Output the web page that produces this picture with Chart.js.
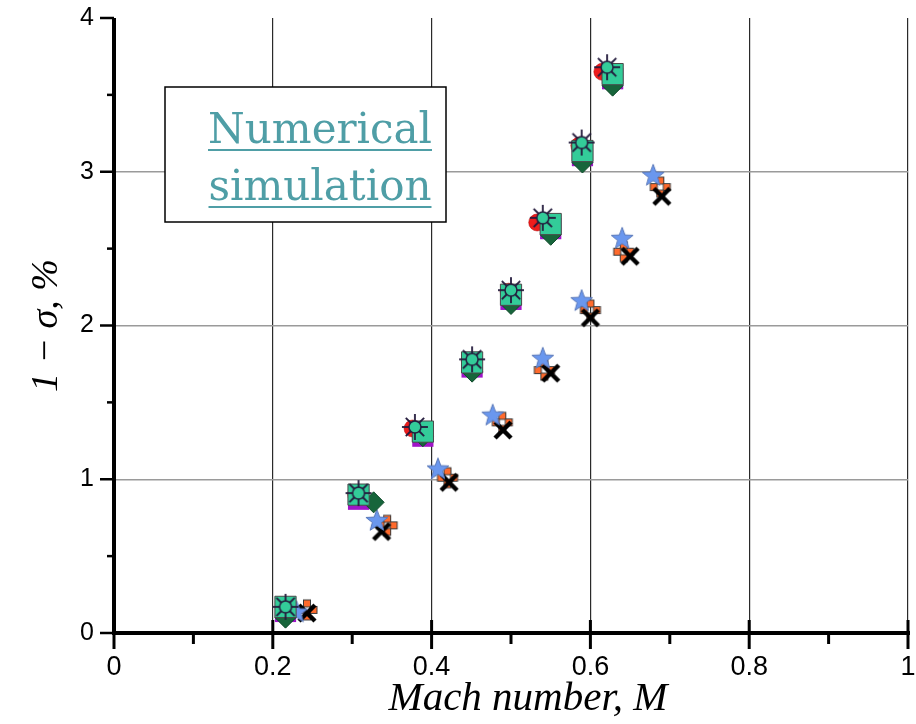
<!DOCTYPE html>
<html>
<head>
<meta charset="utf-8">
<script src="https://cdn.jsdelivr.net/npm/chart.js@4"></script>
<style>
  html, body { margin: 0; padding: 0; background: #fff; }
  #wrap { width: 916px; height: 724px; }
</style>
</head>
<body>
<div id="wrap"><canvas id="chart" width="916" height="724"></canvas></div>
<script>
// --- data ---
// numerical simulation (left cluster)
const sunX = [0.216, 0.308, 0.379, 0.451, 0.500, 0.540, 0.589, 0.621];
const sunY = [0.17, 0.91, 1.34, 1.78, 2.23, 2.70, 3.19, 3.68];
const redX = [0.214, 0.305, 0.376, 0.448, 0.497, 0.533, 0.586, 0.615];
const redY = [0.16, 0.90, 1.33, 1.77, 2.22, 2.67, 3.17, 3.65];
const squareX = [0.216, 0.308, 0.389, 0.451, 0.500, 0.550, 0.590, 0.628];
const squareY = [0.17, 0.90, 1.31, 1.76, 2.20, 2.66, 3.135, 3.635];
const purpleY = [0.14, 0.87, 1.28, 1.73, 2.17, 2.63, 3.105, 3.605];
const diamondX = [0.216, 0.327, 0.389, 0.451, 0.500, 0.550, 0.590, 0.628];
const diamondY = [0.10, 0.85, 1.28, 1.70, 2.14, 2.59, 3.06, 3.56];
// experiment (right cluster)
const starX = [0.230, 0.331, 0.408, 0.477, 0.540, 0.589, 0.640, 0.679];
const starY = [0.14, 0.735, 1.07, 1.42, 1.79, 2.165, 2.57, 2.98];
const plusX = [0.243, 0.344, 0.420, 0.489, 0.542, 0.600, 0.642, 0.688];
const plusY = [0.15, 0.70, 1.01, 1.37, 1.71, 2.10, 2.48, 2.90];
const crossX = [0.243, 0.337, 0.422, 0.490, 0.550, 0.600, 0.650, 0.690];
const crossY = [0.13, 0.66, 0.98, 1.32, 1.69, 2.05, 2.45, 2.84];

const xTicks = [0, 0.2, 0.4, 0.6, 0.8, 1];
const yTicks = [0, 1, 2, 3, 4];

function pts(xs, ys) {
    return xs.map((x, i) => ({ x: x, y: ys[i] }));
}

function makeMarker(size, draw) {
    const c = document.createElement('canvas');
    c.width = size;
    c.height = size;
    draw(c.getContext('2d'), size / 2);
    return c;
}

// circle with rays
const sunMarker = makeMarker(30, function(g, c) {
    g.strokeStyle = '#231a3c';
    g.lineWidth = 1.8;
    for (let k = 0; k < 8; k++) {
        const a = k * Math.PI / 4;
        g.beginPath();
        g.moveTo(c + Math.cos(a) * 6, c + Math.sin(a) * 6);
        g.lineTo(c + Math.cos(a) * 13, c + Math.sin(a) * 13);
        g.stroke();
    }
    g.beginPath();
    g.arc(c, c, 6, 0, Math.PI * 2);
    g.fillStyle = '#33cc99';
    g.fill();
    g.lineWidth = 1.5;
    g.stroke();
});

// five point star
const starMarker = makeMarker(26, function(g, c) {
    g.beginPath();
    for (let k = 0; k < 10; k++) {
        const r = k % 2 === 0 ? 11.5 : 4.8;
        const a = -Math.PI / 2 + k * Math.PI / 5;
        const px = c + Math.cos(a) * r, py = c + 1 + Math.sin(a) * r;
        if (k === 0) g.moveTo(px, py); else g.lineTo(px, py);
    }
    g.closePath();
    g.fillStyle = '#6a97ee';
    g.fill();
    g.strokeStyle = '#5a78b8';
    g.lineWidth = 1;
    g.stroke();
});

// four orange squares in a plus
const plusMarker = makeMarker(24, function(g, c) {
    const s = 7, d = 6.5;
    [[0, -d], [-d, 0], [d, 0], [0, d]].forEach(o => {
        g.fillStyle = '#ff6a2c';
        g.fillRect(c + o[0] - s / 2, c + o[1] - s / 2, s, s);
        g.strokeStyle = '#3a3a3a';
        g.lineWidth = 1;
        g.strokeRect(c + o[0] - s / 2, c + o[1] - s / 2, s, s);
    });
});

// thick black X
const crossMarker = makeMarker(24, function(g, c) {
    g.strokeStyle = '#000';
    g.lineWidth = 4.5;
    g.beginPath();
    g.moveTo(c - 8, c - 8); g.lineTo(c + 8, c + 8);
    g.moveTo(c + 8, c - 8); g.lineTo(c - 8, c + 8);
    g.stroke();
});

// axis lines, tick marks, x title and the text box
const axisPlugin = {
    id: 'axisPlugin',
    afterDatasetsDraw(chart) {
        const ctx = chart.ctx;
        const xs = chart.scales.x, ys = chart.scales.y;
        const area = chart.chartArea;
        ctx.save();
        ctx.strokeStyle = '#000';
        ctx.lineCap = 'butt';

        // y ticks
        for (let v = 0; v <= 4.001; v += 0.5) {
            const py = ys.getPixelForValue(v);
            const major = Math.abs(v - Math.round(v)) < 1e-6;
            ctx.lineWidth = 2.5;
            ctx.beginPath();
            ctx.moveTo(area.left - (major ? 14 : 7), py);
            ctx.lineTo(area.left, py);
            ctx.stroke();
        }
        // x ticks
        for (let k = 0; k <= 10; k++) {
            const px = xs.getPixelForValue(k / 10);
            const major = k % 2 === 0;
            ctx.lineWidth = 3;
            ctx.beginPath();
            ctx.moveTo(px, major ? area.bottom - 13 : area.bottom);
            ctx.lineTo(px, area.bottom + (major ? 16 : 11));
            ctx.stroke();
        }
        // axis lines
        ctx.lineWidth = 4;
        ctx.beginPath();
        ctx.moveTo(area.left, area.top);
        ctx.lineTo(area.left, area.bottom + 2);
        ctx.moveTo(area.left - 2, area.bottom);
        ctx.lineTo(area.right + 2, area.bottom);
        ctx.stroke();

        // x axis title
        ctx.fillStyle = '#000';
        ctx.font = 'italic 41px "Liberation Serif", serif';
        ctx.textAlign = 'center';
        ctx.textBaseline = 'alphabetic';
        ctx.fillText('Mach number, M', 528, 710);

        // text box
        ctx.fillStyle = '#fff';
        ctx.fillRect(165, 87, 281, 135);
        ctx.lineWidth = 1.5;
        ctx.strokeRect(165, 87, 281, 135);
        ctx.fillStyle = '#4f9ea6';
        ctx.strokeStyle = '#4f9ea6';
        ctx.font = '42px "DejaVu Serif"';
        const lines = [['Numerical', 143], ['simulation', 200]];
        lines.forEach(l => {
            ctx.fillText(l[0], 320, l[1]);
            const w = ctx.measureText(l[0]).width;
            ctx.lineWidth = 2;
            ctx.beginPath();
            ctx.moveTo(320 - w / 2, l[1] + 7);
            ctx.lineTo(320 + w / 2, l[1] + 7);
            ctx.stroke();
        });
        ctx.restore();
    }
};

new Chart(document.getElementById('chart'), {
    type: 'scatter',
    data: {
        datasets: [
            { label: 'sun', data: pts(sunX, sunY), pointStyle: sunMarker, order: 1 },
            { label: 'square', data: pts(squareX, squareY), pointStyle: 'rect', pointRadius: 15,
              backgroundColor: '#33cc99', borderColor: '#4a4a4a', borderWidth: 1, order: 2 },
            { label: 'red', data: pts(redX, redY), pointStyle: 'circle', pointRadius: 8.5,
              backgroundColor: '#ee1c1c', borderColor: '#b00000', borderWidth: 0.5, order: 3 },
            { label: 'diamond', data: pts(diamondX, diamondY), pointStyle: 'rectRot', pointRadius: 10.5,
              backgroundColor: '#17653b', borderColor: '#0f4a2a', borderWidth: 1, order: 4 },
            { label: 'purple', data: pts(squareX, purpleY), pointStyle: 'rect', pointRadius: 15,
              backgroundColor: '#a014c8', borderColor: '#a014c8', borderWidth: 0, order: 5 },
            { label: 'star', data: pts(starX, starY), pointStyle: starMarker, order: 6 },
            { label: 'cross', data: pts(crossX, crossY), pointStyle: crossMarker, order: 7 },
            { label: 'plus', data: pts(plusX, plusY), pointStyle: plusMarker, order: 8 }
        ]
    },
    options: {
        responsive: false,
        animation: false,
        events: [],
        layout: { autoPadding: false, padding: { top: 18, right: 8, left: 0, bottom: 0 } },
        plugins: {
            legend: { display: false },
            tooltip: { enabled: false }
        },
        scales: {
            x: {
                type: 'linear',
                min: 0,
                max: 1,
                afterFit: function(scale) {
                    scale.height = 91;
                    scale.paddingLeft = 0;
                    scale.paddingRight = 0;
                },
                afterBuildTicks: function(scale) { scale.ticks = xTicks.map(v => ({ value: v })); },
                border: { display: false },
                grid: {
                    drawTicks: false,
                    lineWidth: 1.2,
                    color: function(c) { return c.tick && c.tick.value === 0 ? 'rgba(0,0,0,0)' : '#2a2a2a'; }
                },
                ticks: {
                    padding: 18,
                    color: '#000',
                    font: { family: '"Liberation Sans Narrow", "Liberation Sans", sans-serif', size: 27 },
                    callback: function(v) { return String(v); }
                }
            },
            y: {
                min: 0,
                max: 4,
                afterFit: function(scale) {
                    scale.width = 114;
                    scale.paddingTop = 0;
                    scale.paddingBottom = 0;
                },
                afterBuildTicks: function(scale) { scale.ticks = yTicks.map(v => ({ value: v })); },
                border: { display: false },
                grid: {
                    drawTicks: false,
                    lineWidth: 1.5,
                    color: function(c) {
                        const v = c.tick ? c.tick.value : 0;
                        return (v === 0 || v === 4) ? 'rgba(0,0,0,0)' : '#9a9a9a';
                    }
                },
                ticks: {
                    padding: 20,
                    color: '#000',
                    font: { family: '"Liberation Sans", sans-serif', size: 25 }
                },
                title: {
                    display: true,
                    text: '1 − σ, %',
                    color: '#000',
                    font: { family: '"Liberation Serif", serif', style: 'italic', size: 38 },
                    padding: { top: 24, bottom: 0 }
                }
            }
        }
    },
    plugins: [axisPlugin]
});
</script>
</body>
</html>
